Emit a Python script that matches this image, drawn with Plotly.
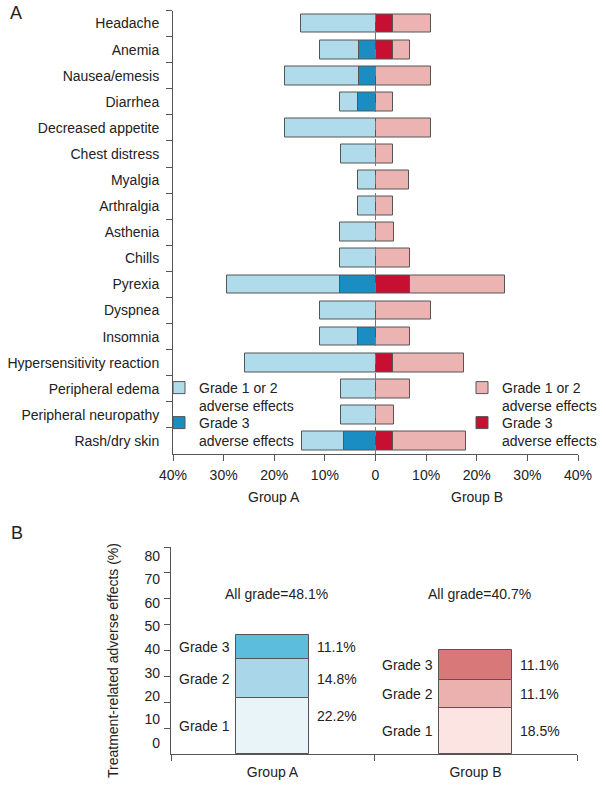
import plotly.graph_objects as go

# ---- panel A: adverse events by type (% of patients) ----
categories = ["Headache", "Anemia", "Nausea/emesis", "Diarrhea", "Decreased appetite",
              "Chest distress", "Myalgia", "Arthralgia", "Asthenia", "Chills", "Pyrexia",
              "Dyspnea", "Insomnia", "Hypersensitivity reaction", "Peripheral edema",
              "Peripheral neuropathy", "Rash/dry skin"]
group_a_total = [14.7, 10.9, 17.8, 7.1, 17.8, 6.9, 3.4, 3.4, 7.0, 7.0, 29.4, 10.9, 10.9,
                 25.7, 6.9, 6.9, 14.5]
group_a_grade3 = [0, 3.3, 3.3, 3.4, 0, 0, 0, 0, 0, 0, 7.1, 0, 3.5, 0, 0, 0, 6.3]
group_b_total = [11.0, 6.9, 11.0, 3.4, 11.0, 3.4, 6.7, 3.4, 3.6, 6.9, 25.6, 10.9, 6.9,
                 17.4, 6.9, 3.6, 17.8]
group_b_grade3 = [3.4, 3.4, 0, 0, 0, 0, 0, 0, 0, 0, 6.8, 0, 0, 3.5, 0, 0, 3.5]
x_ticks = [-40, -30, -20, -10, 0, 10, 20, 30, 40]
x_tick_text = ["40%", "30%", "20%", "10%", "0", "10%", "20%", "30%", "40%"]

# ---- panel B: treatment-related adverse effects by grade ----
groups = ["Group A", "Group B"]
grades = ["Grade 1", "Grade 2", "Grade 3"]
grade_a = [21.6, 15.0, 9.4]
grade_b = [18.0, 10.5, 11.7]
pct_a = ["22.2%", "14.8%", "11.1%"]
pct_b = ["18.5%", "11.1%", "11.1%"]
all_grade = ["All grade=48.1%", "All grade=40.7%"]
y_ticks_b = [0, 10, 20, 30, 40, 50, 60, 70, 80]

W, H = 606, 789
FONT = "Liberation Sans, Arial, sans-serif"
TXT = "#222"
EDGE = dict(color="#555", width=1)
BLUE_LT, BLUE_DK = "#b0dbeb", "#1a8dc3"
RED_LT, RED_DK = "#ebb3b1", "#c60f31"
A_SHADES = ["#e9f4f8", "#a9d7e9", "#5dbddc"]
B_SHADES = ["#fbe4e2", "#eab1af", "#d87878"]


def py(px):
    return 1 - px / H


fig = go.Figure()

a_low = [t - g for t, g in zip(group_a_total, group_a_grade3)]
b_low = [t - g for t, g in zip(group_b_total, group_b_grade3)]
bar_kw = dict(orientation="h", width=0.72, marker_line=EDGE, xaxis="x", yaxis="y")
fig.add_trace(go.Bar(y=categories, x=[-v for v in group_a_grade3], name="Grade 3<br>adverse effects",
                     marker_color=BLUE_DK, legend="legend3", **bar_kw))
fig.add_trace(go.Bar(y=categories, x=[-v for v in a_low], name="Grade 1 or 2<br>adverse effects",
                     marker_color=BLUE_LT, legend="legend", **bar_kw))
fig.add_trace(go.Bar(y=categories, x=group_b_grade3, name="Grade 3<br>adverse effects",
                     marker_color=RED_DK, legend="legend4", **bar_kw))
fig.add_trace(go.Bar(y=categories, x=b_low, name="Grade 1 or 2<br>adverse effects",
                     marker_color=RED_LT, legend="legend2", **bar_kw))

# panel B stacked bars
for i, g in enumerate(grades):
    fig.add_trace(go.Bar(x=groups, y=[grade_a[i], grade_b[i]], width=0.36,
                         marker=dict(color=[A_SHADES[i], B_SHADES[i]], line=EDGE),
                         showlegend=False, xaxis="x2", yaxis="y2"))
# carrier for the (offset) y tick labels of panel B
fig.add_trace(go.Scatter(x=[None], y=[None], xaxis="x2", yaxis="y3", showlegend=False))

# grade / percentage labels beside the bars of panel B
for gi, (vals, pcts) in enumerate(((grade_a, pct_a), (grade_b, pct_b))):
    base = 0
    for i, v in enumerate(vals):
        mid = base + v / 2
        base += v
        fig.add_annotation(x=groups[gi], y=mid, xref="x2", yref="y2", text=grades[i],
                           showarrow=False, xanchor="right", xshift=-41)
        fig.add_annotation(x=groups[gi], y=mid + (4 if gi == 0 and i == 0 else 0),
                           xref="x2", yref="y2", text=pcts[i],
                           showarrow=False, xanchor="left", xshift=42)
    fig.add_annotation(x=groups[gi], y=62, xref="x2", yref="y2", text=all_grade[gi],
                       showarrow=False, xshift=4)

fig.add_shape(type="line", x0=0, x1=0, y0=0, y1=1, xref="x", yref="y domain",
              line=dict(color="#777", width=1, dash="dash"), layer="above")

fig.add_annotation(x=-20, y=py(497), xref="x", yref="paper", text="Group A", showarrow=False)
fig.add_annotation(x=20, y=py(497), xref="x", yref="paper", text="Group B", showarrow=False)
fig.add_annotation(x=16 / W, y=py(13), xref="paper", yref="paper", text="A", showarrow=False,
                   xanchor="center", yanchor="middle", font=dict(size=18))
fig.add_annotation(x=17 / W, y=py(533), xref="paper", yref="paper", text="B", showarrow=False,
                   xanchor="center", yanchor="middle", font=dict(size=18))
fig.add_annotation(x=113 / W, y=py(661), xref="paper", yref="paper", textangle=-90,
                   text="Treatment-related adverse effects (%)", showarrow=False,
                   xanchor="center", yanchor="middle", font=dict(size=14))

axis_common = dict(showline=True, linecolor="#555", linewidth=1, ticks="outside",
                   ticklen=6, tickcolor="#555", showgrid=False, zeroline=False,
                   automargin=False, tickfont=dict(size=14, color=TXT))

legend_common = dict(bgcolor="rgba(0,0,0,0)", font=dict(size=14, color=TXT),
                     yanchor="top", xanchor="left", valign="top", itemclick=False)

fig.update_layout(
    width=W, height=H, margin=dict(l=0, r=0, t=0, b=0),
    paper_bgcolor="white", plot_bgcolor="white",
    font=dict(family=FONT, size=14, color=TXT),
    barmode="relative", bargap=0,
    xaxis=dict(domain=[173 / W, 578 / W], range=[-40, 40], tickvals=x_ticks,
               ticktext=x_tick_text, anchor="y", ticklabelstandoff=2, **axis_common),
    yaxis=dict(domain=[py(454), py(10.5)], type="category", range=[16.5, -0.5],
               tickson="boundaries", anchor="x", ticklabelstandoff=10, **axis_common),
    xaxis2=dict(domain=[171 / W, 577 / W], type="category", range=[-0.5, 1.5],
                tickson="boundaries", anchor="y2", ticklabelstandoff=5, **axis_common),
    yaxis2=dict(domain=[py(754.2), py(547)], range=[0, 80], tickvals=y_ticks_b[1:],
                showticklabels=False, anchor="x2", **axis_common),
    yaxis3=dict(overlaying="y2", anchor="x2", side="left", range=[-4.93, 83.85],
                tickvals=y_ticks_b, showline=False, showgrid=False, zeroline=False,
                automargin=False, ticks="", ticklabelstandoff=10,
                tickfont=dict(size=14, color=TXT)),
    legend=dict(x=159 / W, y=py(372), **legend_common),
    legend3=dict(x=159 / W, y=py(407), **legend_common),
    legend2=dict(x=462 / W, y=py(372), **legend_common),
    legend4=dict(x=462 / W, y=py(407), **legend_common),
)

fig.write_html("out.html", config={"displayModeBar": False},
               post_script="document.body.style.margin='0';")
